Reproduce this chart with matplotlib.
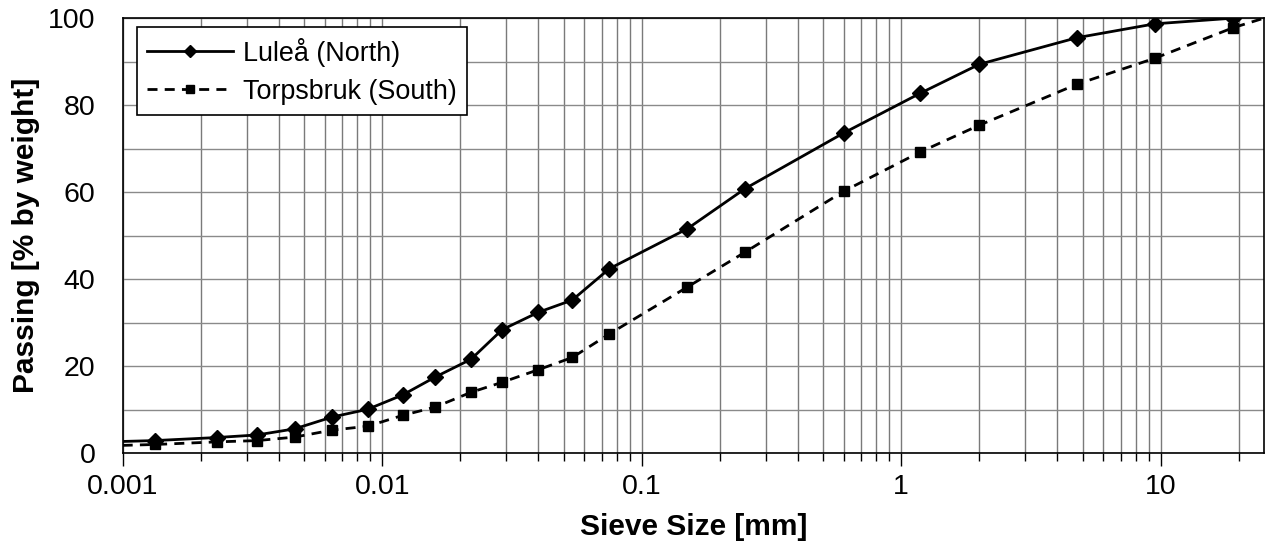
import numpy as np
import matplotlib
matplotlib.use('Agg')
import matplotlib.pyplot as plt
from matplotlib.ticker import LogLocator, FixedLocator, FixedFormatter, NullFormatter

plt.rcParams['font.family'] = ['Liberation Sans', 'DejaVu Sans']

# sieve / hydrometer sizes [mm]
sizes = [0.00133, 0.0023, 0.0033, 0.0046, 0.0064, 0.0088, 0.012, 0.016, 0.022,
         0.029, 0.040, 0.054, 0.075, 0.15, 0.25, 0.6, 1.18, 2.0, 4.75, 9.5, 19.0]

lulea = [2.9, 3.6, 4.2, 5.6, 8.3, 10.1, 13.4, 17.5, 21.6,
         28.4, 32.4, 35.2, 42.4, 51.6, 60.8, 73.6, 82.7, 89.4, 95.5, 98.7, 100.0]
torpsbruk = [2.0, 2.6, 2.9, 3.7, 5.3, 6.2, 8.7, 10.6, 14.0,
             16.3, 19.2, 22.0, 27.4, 38.2, 46.2, 60.2, 69.2, 75.4, 84.8, 90.8, 97.8]

# line end points (no marker)
lulea_start = (0.001, 2.7)
torp_start = (0.001, 1.8)
torp_end = (25.0, 100.0)

fig = plt.figure(figsize=(12.7, 5.5), dpi=100)
ax = fig.add_axes([0.0966, 0.176, 0.8987, 0.791])

x1 = [lulea_start[0]] + sizes
y1 = [lulea_start[1]] + lulea
x2 = [torp_start[0]] + sizes + [torp_end[0]]
y2 = [torp_start[1]] + torpsbruk + [torp_end[1]]

ax.plot(x1, y1, color='black', lw=2.0, marker='D', ms=8.5,
        markevery=list(range(1, len(x1))), label='Luleå (North)', zorder=3)
ax.plot(x2, y2, color='black', lw=2.0, marker='s', ms=7.5, dashes=(3.6, 2.6),
        markevery=list(range(1, len(x2) - 1)), label='Torpsbruk (South)', zorder=3)

ax.set_xscale('log')
ax.set_xlim(0.001, 25)
ax.set_ylim(0, 100)

ax.xaxis.set_major_locator(FixedLocator([0.001, 0.01, 0.1, 1, 10]))
ax.xaxis.set_major_formatter(FixedFormatter(['0.001', '0.01', '0.1', '1', '10']))
ax.xaxis.set_minor_locator(LogLocator(base=10, subs=np.arange(2, 10), numticks=20))
ax.xaxis.set_minor_formatter(NullFormatter())
ax.set_yticks(np.arange(0, 101, 20))
ax.set_yticks(np.arange(10, 100, 20), minor=True)

ax.grid(True, which='both', axis='x', color='#7a7a7a', lw=1)
ax.grid(True, which='both', axis='y', color='#8a8a8a', lw=1)
ax.set_axisbelow(True)

ax.tick_params(axis='x', which='major', direction='out', length=9, width=1,
               labelsize=20.5, pad=6)
ax.tick_params(axis='x', which='minor', direction='out', length=6, width=1)
ax.tick_params(axis='y', which='both', length=0, labelsize=20.5, pad=19.5)

for s in ax.spines.values():
    s.set_color('black')
    s.set_linewidth(1.2)

ax.set_xlabel('Sieve Size [mm]', fontsize=21.5, fontweight='bold', labelpad=9)
ax.set_ylabel('Passing [% by weight]', fontsize=21.5, fontweight='bold', labelpad=6)

leg = ax.legend(loc='upper left', bbox_to_anchor=(0.0125, 0.979), borderaxespad=0,
                fontsize=19.4, fancybox=False, framealpha=1, edgecolor='black',
                handlelength=3.2, handletextpad=0.35, borderpad=0.38, labelspacing=0.45,
                markerscale=0.7)
leg.get_frame().set_linewidth(1.2)

fig.savefig('out.png', dpi=100)
